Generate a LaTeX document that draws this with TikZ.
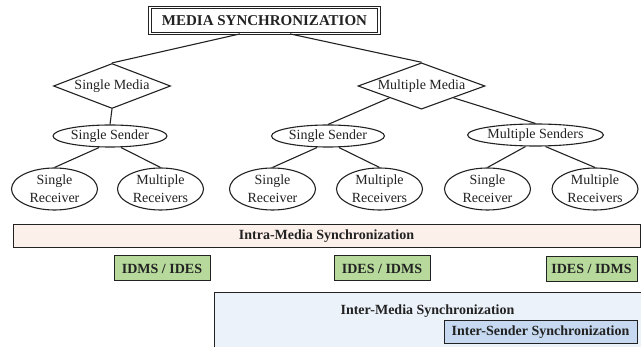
\documentclass[tikz,border=0pt]{standalone}
\usepackage{fontspec}
\setmainfont{Liberation Serif}
\usetikzlibrary{shapes.geometric}
\definecolor{ink}{HTML}{222222}
\definecolor{pinkfill}{HTML}{FCF0EB}
\definecolor{greenfill}{HTML}{B7DA9C}
\definecolor{lightblue}{HTML}{EBF2FA}
\definecolor{midblue}{HTML}{C6D9F1}
\begin{document}
\begin{tikzpicture}[x=1pt,y=-1pt,
  every node/.style={font=\fontsize{14}{17}\selectfont, text=ink, inner sep=0pt},
  conn/.style={draw=ink, line width=1.1pt},
  dia/.style={diamond, aspect=2.6, draw=ink, line width=1.1pt, fill=white},
  ell/.style={ellipse, draw=ink, line width=1.1pt, fill=white, minimum height=22pt},
  rcv/.style={ellipse, draw=ink, line width=1.1pt, fill=white, minimum width=86pt, minimum height=42pt, align=center, font=\fontsize{14}{18}\selectfont},
  bar/.style={rectangle, draw=ink, line width=1pt, font=\bfseries\fontsize{14}{17}\selectfont},
  tag/.style={bar, fill=greenfill, minimum height=25pt}
]
\useasboundingbox (0,0) rectangle (641,347);
\clip (0,0) rectangle (641,347);

% title
\node[rectangle, draw=ink, double=white, double distance=1.8pt, line width=0.8pt,
      minimum width=229pt, minimum height=26pt, font=\bfseries\fontsize{15}{18}\selectfont]
      (title) at (264.5,20.5) {MEDIA SYNCHRONIZATION};

% diamonds
\node[dia, minimum width=117pt, minimum height=45pt] (sm) at (112,86) {Single Media};
\node[dia, minimum width=127pt, minimum height=44pt] (mm) at (421.5,86) {Multiple Media};

% senders
\node[ell, minimum width=114pt] (ss1) at (110,136) {Single Sender};
\node[ell, minimum width=113pt] (ss2) at (328,136) {Single Sender};
\node[ell, minimum width=125pt] (ms) at (535.5,135) {Multiple Senders};

% receivers
\node[rcv] (r1) at (54.5,189) {Single\\Receiver};
\node[rcv] (r2) at (160.5,189) {Multiple\\Receivers};
\node[rcv] (r3) at (272.5,189) {Single\\Receiver};
\node[rcv] (r4) at (379.5,189) {Multiple\\Receivers};
\node[rcv] (r5) at (487.5,189) {Single\\Receiver};
\node[rcv] (r6) at (595,189) {Multiple\\Receivers};

% connectors
\draw[conn] ([xshift=-24.5pt]title.south) -- (sm.north);
\draw[conn] ([xshift=25.5pt]title.south) -- (mm.north);
\draw[conn] (sm.south) -- (ss1.north);
\draw[conn] (mm.south west) -- (ss2.north);
\draw[conn] (mm.south east) -- (ms.north);
\draw[conn] ([xshift=-11pt]ss1.south) -- (r1.north);
\draw[conn] ([xshift=11pt]ss1.south) -- (r2.north);
\draw[conn] ([xshift=-11pt]ss2.south) -- (r3.north);
\draw[conn] ([xshift=11pt]ss2.south) -- (r4.north);
\draw[conn] ([xshift=-10pt]ms.south) -- (r5.north);
\draw[conn] ([xshift=10pt]ms.south) -- (r6.north);

% intra-media bar
\node[bar, fill=pinkfill, minimum width=627pt, minimum height=23pt] (intra) at (326.5,236.5) {Intra-Media Synchronization};

% tags
\node[tag, minimum width=96pt] (tag1) at (162,268.5) {IDMS / IDES};
\node[tag, minimum width=96pt] (tag2) at (382,268.5) {IDES / IDMS};
\node[tag, minimum width=91pt] (tag3) at (591.5,269) {IDES / IDMS};

% inter-media region
\node[bar, fill=lightblue, minimum width=427pt, minimum height=58pt] (inter) at (427.5,322) {};
\node[font=\bfseries\fontsize{14}{17}\selectfont] (intertxt) at (427.5,311) {Inter-Media Synchronization};
\node[bar, fill=midblue, minimum width=193pt, minimum height=23pt] (sender) at (540.5,332.5) {Inter-Sender Synchronization};
\end{tikzpicture}
\end{document}
